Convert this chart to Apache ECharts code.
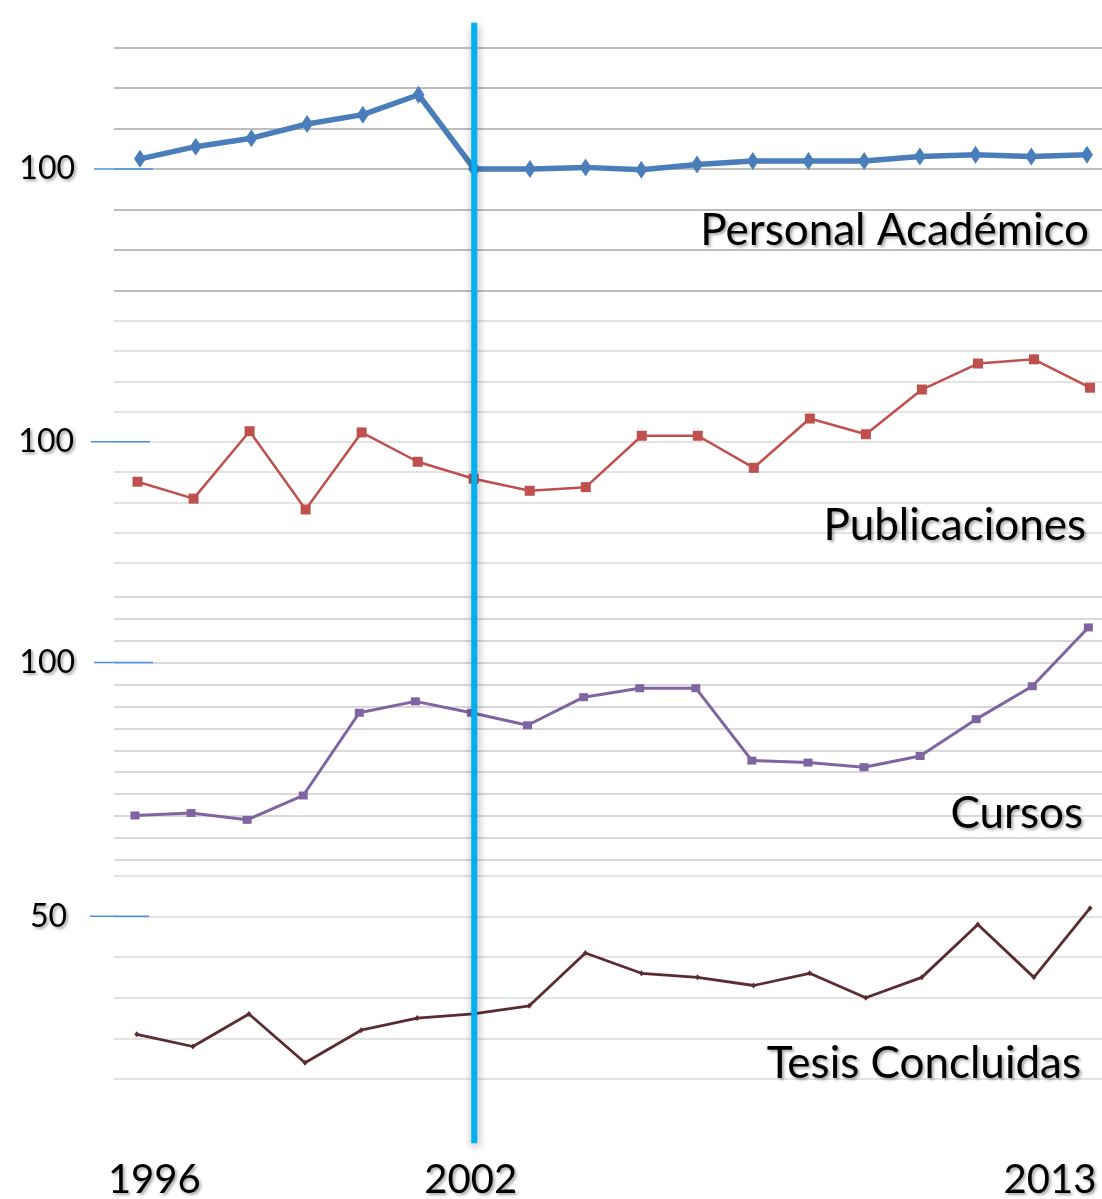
<!DOCTYPE html>
<html><head><meta charset="utf-8">
<script src="https://cdn.jsdelivr.net/npm/echarts@6/dist/echarts.min.js"></script>
<style>html,body{margin:0;padding:0;background:#fff}#c{width:1102px;height:1199px}</style>
</head><body><div id="c"></div>
<script>
// ---- data ----
const years = [1996,1997,1998,1999,2000,2001,2002,2003,2004,2005,2006,2007,2008,2009,2010,2011,2012,2013];
const personalAcademico = [102.5,105.5,107.6,111.1,113.4,118.3,100,100,100.4,99.8,101.1,102.0,102.0,102.0,103.1,103.5,103.1,103.5];
const publicaciones = [86.8,81.2,103.5,77.6,103.1,93.4,87.8,83.8,85.0,102.0,102.0,91.4,107.7,102.5,117.3,125.9,127.3,117.9];
const cursos = [30.3,31.4,28.3,39.4,77.1,82.3,77.1,71.4,84.2,88.3,88.3,55.3,54.4,52.3,57.4,74.2,89.2,116.0];
const tesisConcluidas = [21,18,26,14,22,25,26,28,41,36,35,33,36,30,35,48,35,52];
const panelTitles = ['Personal Académico','Publicaciones','Cursos','Tesis Concluidas'];
const yTickLabels = [100,100,100,50];
const xTickLabels = [1996,2002,2013];
const markerYear = 2002;
const seriesValues = [personalAcademico, publicaciones, cursos, tesisConcluidas];

// ---- layout / styles ----
const panels = [
  {top:47.3, height:243.4, min:70, max:130, xmin:1995.533, xmax:2013.27, grid:'#a8a8a8', color:'#4a7ebb', width:5.5, symbol:'diamond', size:[12,18], margin:39, tx:1089, ty:231},
  {top:290.7, height:272, min:60, max:150, xmin:1995.58, xmax:2013.214, grid:'#dadada', color:'#c0504d', width:2.5, symbol:'rect', size:10, margin:40, tx:1086, ty:526},
  {top:596.7, height:263.3, min:10, max:130, xmin:1995.626, xmax:2013.243, grid:'#cccccc', color:'#8064a2', width:3, symbol:'rect', size:[9,8], margin:39, tx:1083, ty:814},
  {top:875.7, height:244, min:0, max:60, xmin:1995.593, xmax:2013.214, grid:'#dadada', color:'#5b2c2f', width:2.8, symbol:'diamond', size:[5,6], margin:47, tx:1081, ty:1064}
];
const FONT = 'Lato, "Open Sans", sans-serif';
const shadow = {textShadowColor:'rgba(0,0,0,0.35)', textShadowBlur:3, textShadowOffsetX:2, textShadowOffsetY:2};

function splitColors(p, idx) {
  const n = Math.round((p.max - p.min) / 10) + 1;
  const arr = [];
  for (let k = 0; k < n; k++) arr.push(p.grid);
  if (idx === 1) arr[n - 1] = 'rgba(0,0,0,0)';
  if (idx === 3) arr[0] = 'rgba(0,0,0,0)';
  return arr;
}

const chart = echarts.init(document.getElementById('c'));
const option = {
  animation: false,
  backgroundColor: '#ffffff',
  grid: panels.map(p => ({left:114, right:0, top:p.top, height:p.height, outerBoundsMode:'none', containLabel:false})),
  xAxis: panels.map((p, i) => ({
    type:'value', gridIndex:i, min:p.xmin, max:p.xmax,
    show: i === 3,
    axisLine:{show:false}, axisTick:{show:false}, splitLine:{show:false},
    axisLabel: i === 3 ? {
      show:true, customValues: xTickLabels, margin:40,
      fontFamily:FONT, fontSize:40, color:'#000', ...shadow,
      formatter: v => '{y' + v + '|' + v + '}',
      rich: {
        y1996:{fontFamily:FONT, fontSize:40, color:'#000', padding:[0,0,0,35], ...shadow},
        y2002:{fontFamily:FONT, fontSize:40, color:'#000', padding:[0,5,0,0], ...shadow},
        y2013:{fontFamily:FONT, fontSize:40, color:'#000', padding:[0,80,0,0], ...shadow}
      }
    } : {show:false}
  })),
  yAxis: panels.map((p, i) => ({
    type:'value', gridIndex:i, min:p.min, max:p.max, interval:10,
    axisLine:{show:false}, axisTick:{show:false},
    splitLine:{show:true, lineStyle:{color:splitColors(p, i), width:1.5}},
    axisLabel:{
      show:true, customValues:[yTickLabels[i]], margin:p.margin,
      fontFamily:FONT, fontSize:32, color:'#000', ...shadow,
      formatter: v => (v === yTickLabels[i] ? String(v) : '')
    }
  })),
  series: panels.map((p, i) => ({
    type:'line', name:panelTitles[i], xAxisIndex:i, yAxisIndex:i,
    data: years.map((y, k) => [y, seriesValues[i][k]]),
    symbol:p.symbol, symbolSize:p.size, showSymbol:true,
    lineStyle:{color:p.color, width:p.width},
    itemStyle:{color:p.color},
    z: 3
  }))
};
chart.setOption(option);

// annotations positioned through the axes
const g = [];
const bx = chart.convertToPixel({gridIndex:0}, [markerYear, 100])[0];
panels.forEach((p, i) => {
  const py = chart.convertToPixel({gridIndex:i}, [years[0], yTickLabels[i]])[1];
  const x0 = i === 1 ? 91 : (i === 3 ? 90 : 94);
  g.push({type:'line', z:5, shape:{x1:x0, y1:py, x2:x0 + 59, y2:py}, style:{stroke:'#4a90e2', lineWidth:1.5}});
  g.push({type:'text', z:6, style:{text:panelTitles[i], x:p.tx, y:p.ty, font:'44px ' + FONT, fill:'#000', align:'right', verticalAlign:'middle',
    textShadowColor:'rgba(0,0,0,0.35)', textShadowBlur:3, textShadowOffsetX:2, textShadowOffsetY:2}});
});
g.push({type:'rect', z:10, shape:{x:bx - 3, y:22.7, width:6, height:1120.6},
  style:{fill:'#00b0f0', shadowColor:'rgba(0,0,0,0.35)', shadowBlur:8, shadowOffsetX:1, shadowOffsetY:3}});
chart.setOption({graphic: g});
</script>
</body></html>
